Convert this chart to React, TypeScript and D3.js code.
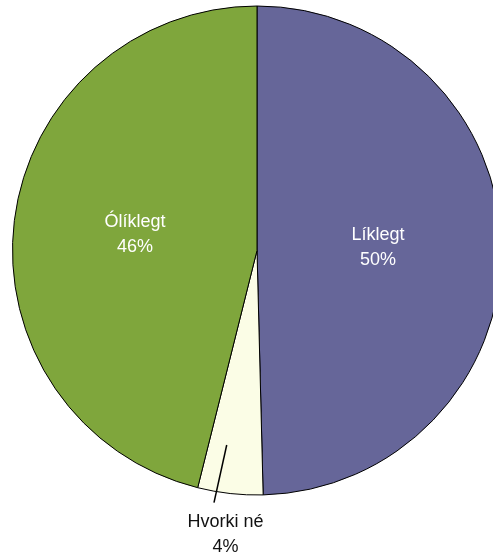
import React from "react";
import * as d3 from "d3";

const categories = ["Líklegt", "Hvorki né", "Ólíklegt"];
const values = [49.6, 4.3, 46.1];
const labels = ["50%", "4%", "46%"];
const colors = ["#666699", "#fbfde6", "#7fa63c"];

export default function App() {
  const W = 493, H = 558;
  const cx = 257, cy = 250.5, R = 244.5;
  const pie = d3.pie<number>().sort(null).value((d) => d);
  const arcs = pie(values);
  const arc = d3.arc<d3.PieArcDatum<number>>().innerRadius(0).outerRadius(R);
  const labelArc = d3.arc<d3.PieArcDatum<number>>().innerRadius(R * 0.99).outerRadius(R * 0.99);
  const font = "'Liberation Sans', Arial, sans-serif";
  return (
    <svg width={W} height={H} style={{ position: "fixed", left: 0, top: 0 }}>
      <g transform={`translate(${cx},${cy})`}>
        {arcs.map((a, i) => (
          <path key={i} d={arc(a) || ""} fill={colors[i]} stroke="#000" strokeWidth={1} />
        ))}
        {arcs.map((a, i) => {
          const mid = (a.startAngle + a.endAngle) / 2;
          if (i === 1) {
            const a1 = mid + 0.0445, a2 = mid + 0.059;
            const p1 = [Math.sin(a1) * R * 0.805, -Math.cos(a1) * R * 0.805];
            const p2 = [Math.sin(a2) * R * 1.046, -Math.cos(a2) * R * 1.046];
            return (
              <g key={i}>
                <line x1={p1[0]} y1={p1[1]} x2={p2[0]} y2={p2[1]} stroke="#000" strokeWidth={1.5} />
                <text x={-31.5} y={276} textAnchor="middle" fontFamily={font} fontSize={18} fill="#111">{categories[i]}</text>
                <text x={-31.5} y={301} textAnchor="middle" fontFamily={font} fontSize={18} fill="#111">{labels[i]}</text>
              </g>
            );
          }
          const [x, y] = arc.centroid(a);
          const xx = x * 0.99 + (i === 2 ? -2 : 0);
          return (
            <g key={i}>
              <text x={xx} y={y - 8.5} textAnchor="middle" fontFamily={font} fontSize={18} fill="#fff">{categories[i]}</text>
              <text x={xx} y={y + 16.5} textAnchor="middle" fontFamily={font} fontSize={18} fill="#fff">{labels[i]}</text>
            </g>
          );
        })}
      </g>
    </svg>
  );
}
